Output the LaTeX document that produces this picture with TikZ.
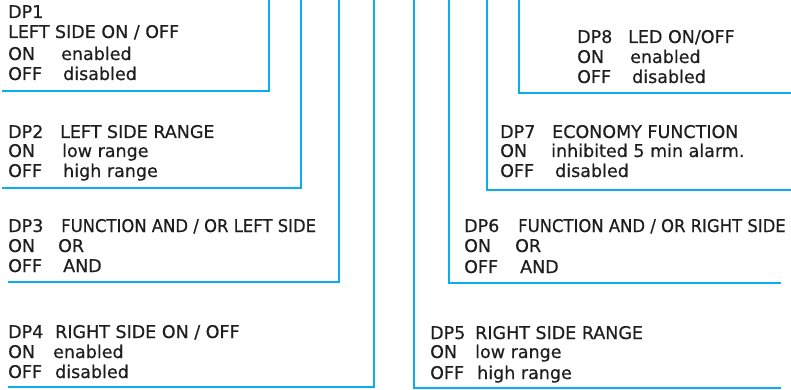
\documentclass[tikz,border=0pt]{standalone}
\usepackage{fontspec}
\setmainfont[FakeBold=0.5]{DejaVu Sans}
\newfontfamily\narrowfont[FakeStretch=0.94,FakeBold=0.5]{DejaVu Sans}
\definecolor{wire}{RGB}{10,174,238}
\definecolor{ink}{RGB}{30,30,30}
\tikzset{
  wireline/.style={draw=wire, line width=2.8pt},
  txt/.style={anchor=base west, inner sep=0pt, text=ink, font=\fontsize{17.5}{19}\selectfont},
}
\newcommand{\tworow}[3]{\makebox[#1pt][l]{#2}#3}
\begin{document}
\begin{tikzpicture}[x=1pt,y=-1pt]
\useasboundingbox (0,0) rectangle (791,390);
% left L-lines
\draw[wireline] (269,0) -- (269,91) -- (2,91);
\draw[wireline] (301,0) -- (301,188) -- (2,188);
\draw[wireline] (339,0) -- (339,282) -- (8,282);
\draw[wireline] (374,0) -- (374,387) -- (8,387);
% right L-lines
\draw[wireline] (414,0) -- (414,388) -- (781,388);
\draw[wireline] (449,0) -- (449,283) -- (781,283);
\draw[wireline] (487,0) -- (487,190) -- (791,190);
\draw[wireline] (519,0) -- (519,93) -- (791,93);
% DP1
\node[txt] (dp1a) at (8,18) {DP1};
\node[txt] (dp1b) at (8,38) {LEFT SIDE ON / OFF};
\node[txt] (dp1c) at (8,60) {\tworow{53}{ON}{enabled}};
\node[txt] (dp1d) at (8,80) {\tworow{55}{OFF}{disabled}};
% DP2
\node[txt] (dp2a) at (8,138) {\tworow{52}{DP2}{LEFT SIDE RANGE}};
\node[txt] (dp2b) at (8,157) {\tworow{54}{ON}{low range}};
\node[txt] (dp2c) at (8,177) {\tworow{55}{OFF}{high range}};
% DP3
\node[txt] (dp3a) at (8,232) {\tworow{53}{DP3}{\narrowfont FUNCTION AND / OR LEFT SIDE}};
\node[txt] (dp3b) at (8,252) {\tworow{50}{ON}{OR}};
\node[txt] (dp3c) at (8,272) {\tworow{55}{OFF}{AND}};
% DP4
\node[txt] (dp4a) at (8,338) {\tworow{47}{DP4}{RIGHT SIDE ON / OFF}};
\node[txt] (dp4b) at (8,358) {\tworow{45}{ON}{enabled}};
\node[txt] (dp4c) at (8,378) {\tworow{47}{OFF}{disabled}};
% DP8
\node[txt] (dp8a) at (577,43) {\tworow{51}{DP8}{LED ON/OFF}};
\node[txt] (dp8b) at (577,63) {\tworow{53}{ON}{enabled}};
\node[txt] (dp8c) at (577,83) {\tworow{55}{OFF}{disabled}};
% DP7
\node[txt] (dp7a) at (500,138) {\tworow{52}{DP7}{ECONOMY FUNCTION}};
\node[txt] (dp7b) at (500,157) {\tworow{51}{ON}{inhibited 5 min alarm.}};
\node[txt] (dp7c) at (500,177) {\tworow{55}{OFF}{disabled}};
% DP6
\node[txt] (dp6a) at (464,232) {\tworow{54}{DP6}{\narrowfont FUNCTION AND / OR RIGHT SIDE}};
\node[txt] (dp6b) at (464,252) {\tworow{51}{ON}{OR}};
\node[txt] (dp6c) at (464,273) {\tworow{56}{OFF}{AND}};
% DP5
\node[txt] (dp5a) at (430,339) {\tworow{45}{DP5}{RIGHT SIDE RANGE}};
\node[txt] (dp5b) at (430,358) {\tworow{45}{ON}{low range}};
\node[txt] (dp5c) at (430,379) {\tworow{47}{OFF}{high range}};
\end{tikzpicture}
\end{document}
